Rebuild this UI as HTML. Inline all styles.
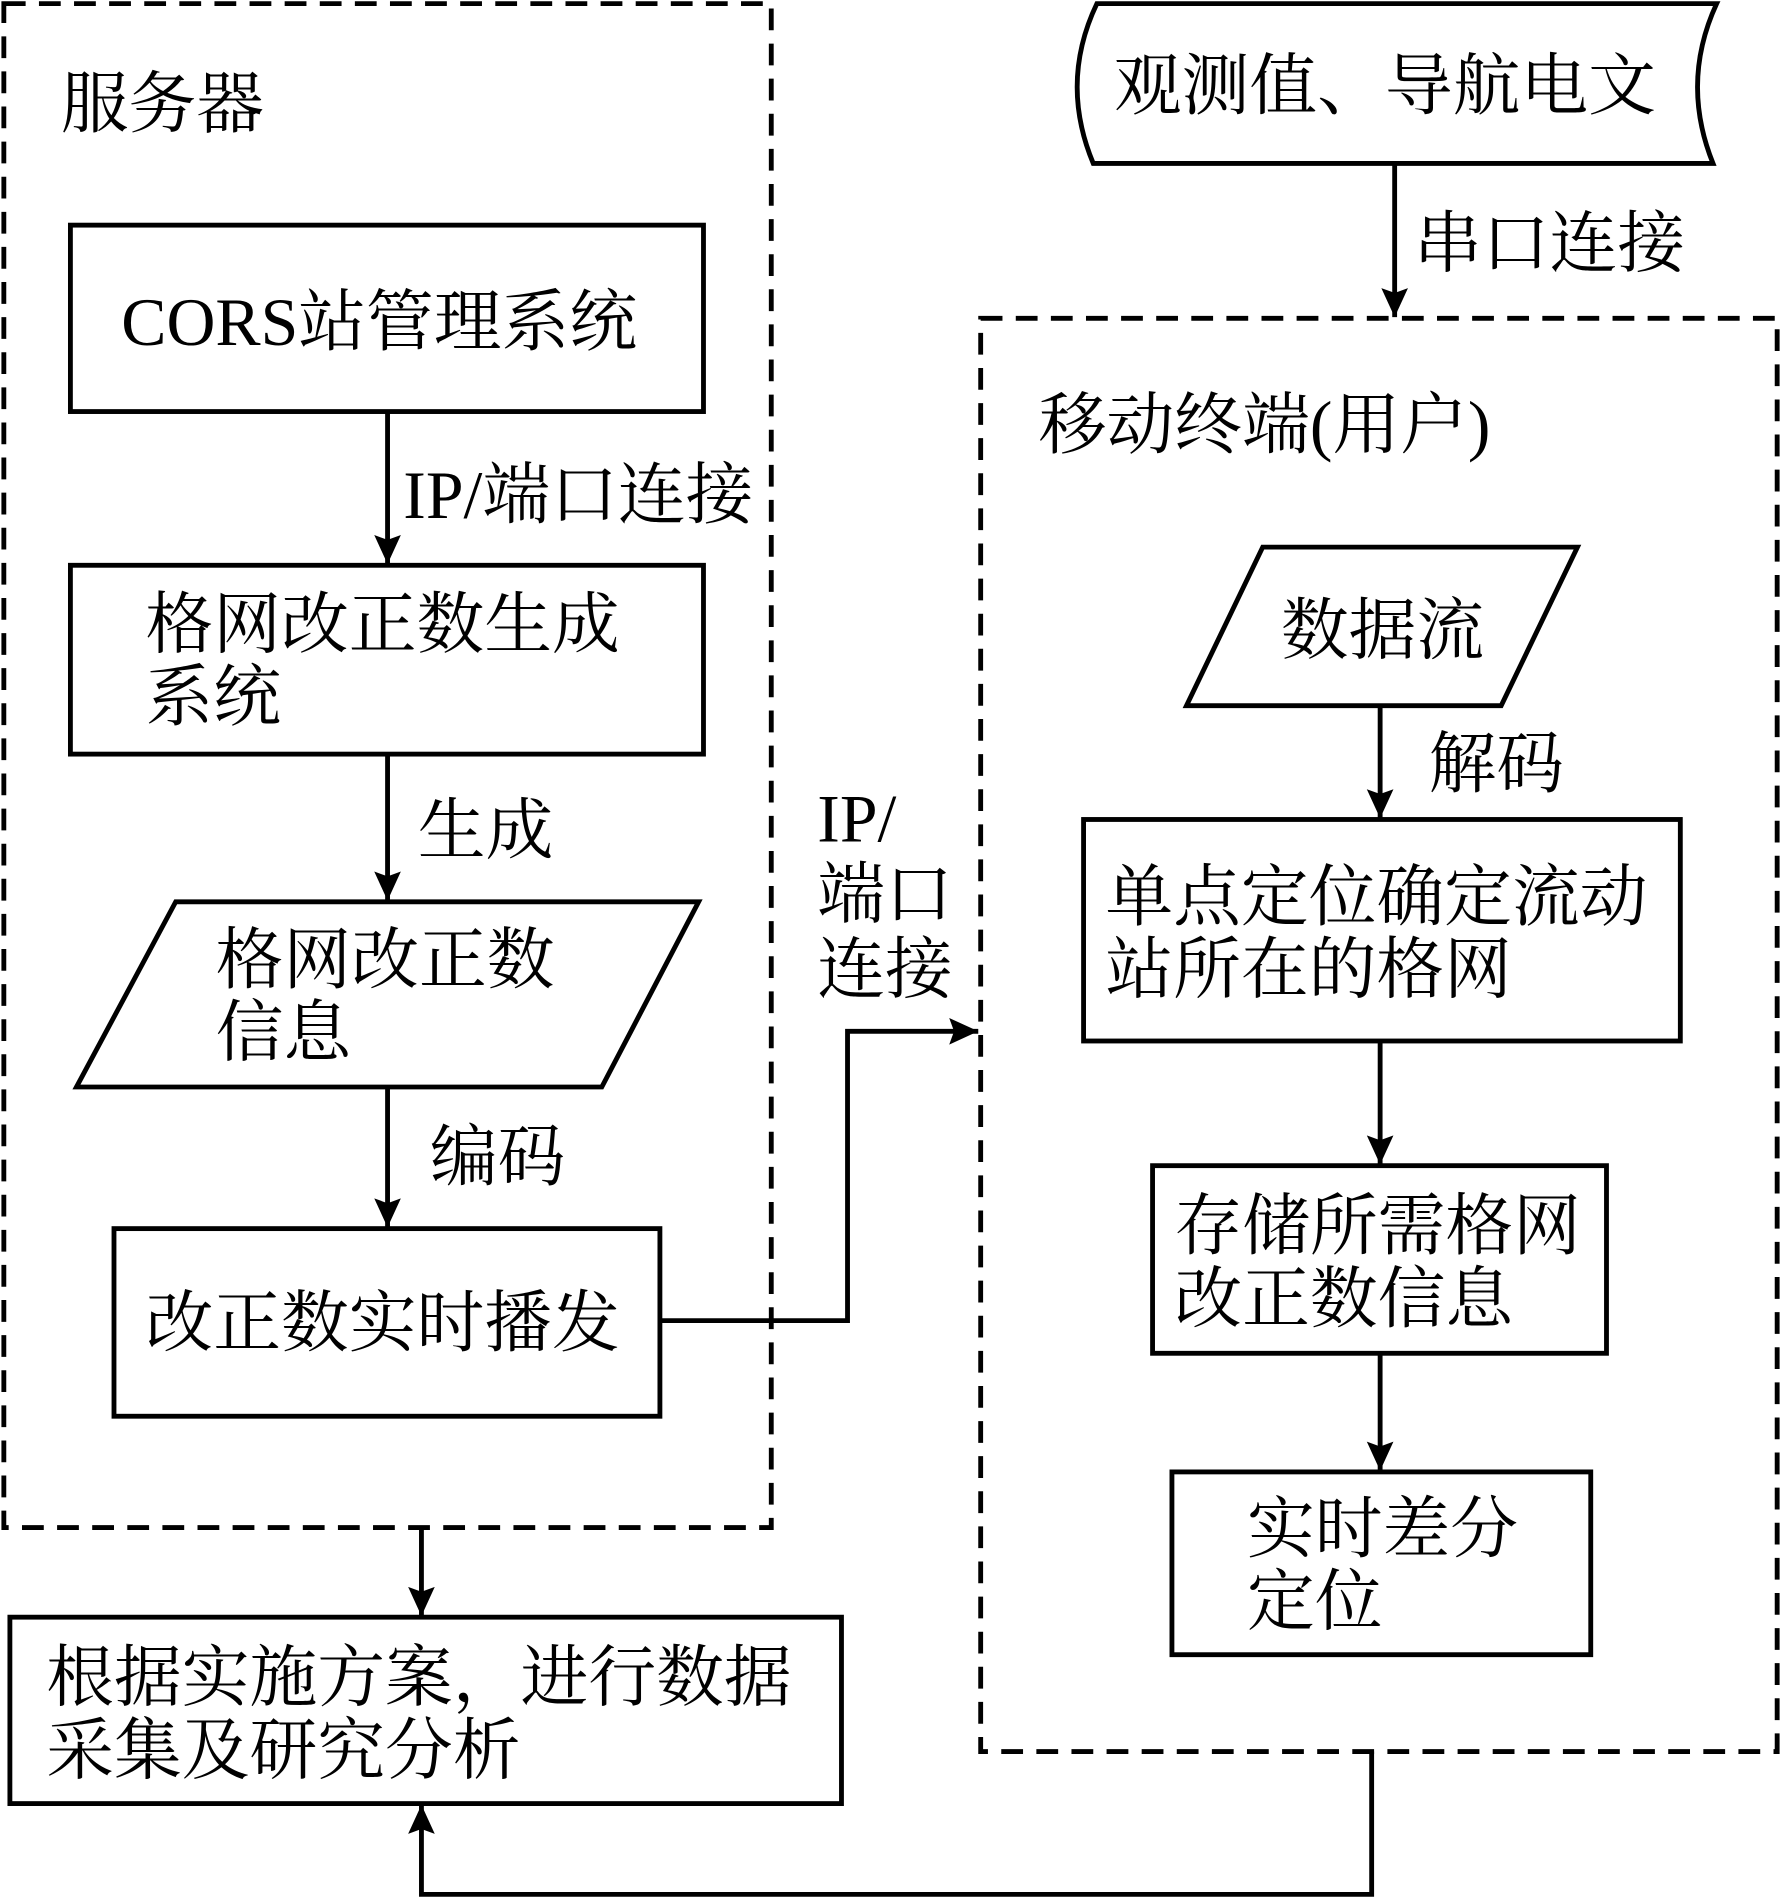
<!DOCTYPE html>
<html><head><meta charset="utf-8">
<style>
html,body{margin:0;padding:0;background:#fff;}
svg{display:block;}
text{font-family:"Liberation Serif","Noto Serif CJK SC",serif;font-size:56px;fill:#000;}
</style></head>
<body>
<svg width="1781" height="1898" viewBox="0 0 1471 1568" xmlns="http://www.w3.org/2000/svg">
<defs>
<marker id="ah" markerWidth="24" markerHeight="48" refX="24" refY="11" orient="auto" markerUnits="userSpaceOnUse" viewBox="0 0 24 22">
<path d="M0,0 L24,11 L0,22 L4,11 Z" fill="#000"/>
</marker>
</defs>
<g fill="none" stroke="#000" stroke-width="4">
<!-- dashed containers -->
<rect x="3" y="3" width="634" height="1259" stroke-dasharray="18,11"/>
<rect x="810" y="263" width="658" height="1184" stroke-dasharray="18,11"/>
<!-- left boxes -->
<rect x="58" y="186" width="523" height="154"/>
<rect x="58" y="467" width="523" height="156"/>
<polygon points="145,745 577,745 497,898 63,898"/>
<rect x="94" y="1015" width="451" height="155"/>
<rect x="8" y="1336" width="687" height="154"/>
<!-- tape -->
<path d="M906,3 L1418,3 Q1388,68 1415,135 L903,135 Q875,68 906,3 Z"/>
<!-- right boxes -->
<polygon points="1043,452 1303,452 1240,583 980,583"/>
<rect x="895" y="677" width="493" height="183"/>
<rect x="952" y="963" width="375" height="155"/>
<rect x="968" y="1216" width="346" height="151"/>
</g>
<g fill="none" stroke="#000" stroke-width="4" marker-end="url(#ah)">
<path d="M320,340 V466"/>
<path d="M320,623 V744"/>
<path d="M320,898 V1014"/>
<path d="M545,1091 H700 V852 H808"/>
<path d="M348,1262 V1335"/>
<path d="M1133,1447 V1565 H348 V1491"/>
<path d="M1152,135 V262"/>
<path d="M1140,583 V676"/>
<path d="M1140,860 V962"/>
<path d="M1140,1118 V1215"/>
</g>
<text x="50" y="105">服务器</text>
<text x="100" y="285">CORS站管理系统</text>
<text x="333" y="428">IP/端口连接</text>
<text x="120" y="535">格网改正数生成</text>
<text x="120" y="595">系统</text>
<text x="345" y="705">生成</text>
<text x="178" y="812">格网改正数</text>
<text x="178" y="872">信息</text>
<text x="355" y="975">编码</text>
<text x="120" y="1112">改正数实时播发</text>
<text x="675" y="695">IP/</text>
<text x="675" y="758">端口</text>
<text x="675" y="820">连接</text>
<text x="38" y="1405">根据实施方案，进行数据</text>
<text x="38" y="1465">采集及研究分析</text>
<text x="920" y="90">观测值、导航电文</text>
<text x="1168" y="220">串口连接</text>
<text x="858" y="370">移动终端(用户)</text>
<text x="1058" y="540">数据流</text>
<text x="1180" y="650">解码</text>
<text x="913" y="760">单点定位确定流动</text>
<text x="913" y="820">站所在的格网</text>
<text x="970" y="1032">存储所需格网</text>
<text x="970" y="1092">改正数信息</text>
<text x="1030" y="1282">实时差分</text>
<text x="1030" y="1342">定位</text>
</svg>
</body></html>
